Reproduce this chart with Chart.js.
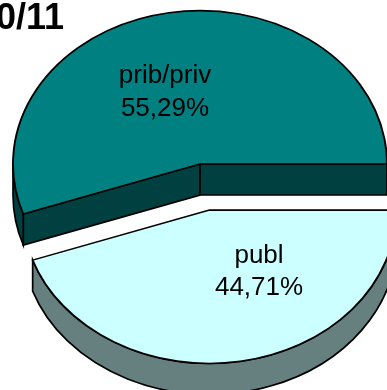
<!DOCTYPE html>
<html>
<head>
<meta charset="utf-8">
<script src="https://cdn.jsdelivr.net/npm/chart.js@4"></script>
<style>
  html, body { margin: 0; padding: 0; background: #fff; overflow: hidden; }
  canvas { display: block; }
</style>
</head>
<body>
<canvas id="chart" width="387" height="390"></canvas>
<script>
// Enrolment split for the school year
const categories = ['prib/priv', 'publ'];
const shares = [55.29, 44.71];
const titleText = '2010/11';

// Look of the disc
const topColors = ['#008080', '#CCFFFF'];
const sideColors = ['#004040', '#668080'];
const explodeBy = [0, 57];   // how far each slice is pulled out, px
const tilt = 0.82;           // vertical squash of the disc
const depth = 31;            // thickness of the disc, px
const labelOffsets = [
  { dx: -35, y1: -81.5, y2: -48.3 },
  { dx: 49.6, y1: 52.6, y2: 85.2 }
];

const fmtPct = v => v.toFixed(2).replace('.', ',') + '%';

function screenCenter(chart, arc) {
  const c = chart.$pieCenter;
  return { x: arc.x, y: c.y + (arc.y - c.y) * tilt };
}

// Turns the flat pie into a tilted, exploded disc with side walls
const pie3d = {
  id: 'pie3d',
  afterDatasetUpdate(chart, args) {
    const area = chart.chartArea;
    chart.$pieCenter = { x: (area.left + area.right) / 2, y: (area.top + area.bottom) / 2 };
    const meta = chart.getDatasetMeta(args.index);
    meta.data.forEach((arc, i) => {
      const d = explodeBy[i] || 0;
      const mid = (arc.startAngle + arc.endAngle) / 2;
      arc.x += Math.cos(mid) * d;
      arc.y += Math.sin(mid) * d;
    });
  },
  beforeDatasetsDraw(chart) {
    const ctx = chart.ctx;
    const c = chart.$pieCenter;
    const meta = chart.getDatasetMeta(0);
    ctx.save();
    ctx.lineWidth = 1.7;
    ctx.strokeStyle = '#000';
    ctx.lineJoin = 'miter';
    meta.data.forEach((arc, i) => {
      const s = screenCenter(chart, arc);
      const R = arc.outerRadius, Ry = R * tilt;
      const a1 = arc.startAngle, a2 = arc.endAngle;
      const pt = a => [s.x + R * Math.cos(a), s.y + Ry * Math.sin(a)];
      ctx.fillStyle = sideColors[i];
      const radialWall = a => {
        const p = pt(a);
        ctx.beginPath();
        ctx.moveTo(s.x, s.y);
        ctx.lineTo(p[0], p[1]);
        ctx.lineTo(p[0], p[1] + depth);
        ctx.lineTo(s.x, s.y + depth);
        ctx.closePath();
        ctx.fill();
        ctx.stroke();
      };
      if (Math.cos(a1) < -1e-6) radialWall(a1);
      if (Math.cos(a2) > 1e-6) radialWall(a2);
      // rim: only the front half of the ellipse is seen
      for (let k = -2; k <= 1; k++) {
        const lo = Math.max(a1, 2 * Math.PI * k);
        const hi = Math.min(a2, 2 * Math.PI * k + Math.PI);
        if (hi - lo > 1e-6) {
          ctx.beginPath();
          ctx.ellipse(s.x, s.y, R, Ry, 0, lo, hi, false);
          ctx.ellipse(s.x, s.y + depth, R, Ry, 0, hi, lo, true);
          ctx.closePath();
          ctx.fill();
          ctx.stroke();
        }
      }
    });
    ctx.restore();
    // top faces are drawn by the library inside this squash
    ctx.save();
    ctx.translate(c.x, c.y);
    ctx.scale(1, tilt);
    ctx.translate(-c.x, -c.y);
  },
  afterDatasetsDraw(chart) {
    const ctx = chart.ctx;
    ctx.restore();
    const meta = chart.getDatasetMeta(0);
    ctx.save();
    ctx.fillStyle = '#000';
    ctx.font = '26px "Liberation Sans", Arial, sans-serif';
    ctx.textAlign = 'center';
    ctx.textBaseline = 'alphabetic';
    meta.data.forEach((arc, i) => {
      const s = screenCenter(chart, arc);
      const o = labelOffsets[i];
      ctx.fillText(categories[i], s.x + o.dx, s.y + o.y1);
      ctx.fillText(fmtPct(shares[i]), s.x + o.dx, s.y + o.y2);
    });
    ctx.font = 'bold 36px "Liberation Sans", Arial, sans-serif';
    ctx.textAlign = 'right';
    ctx.fillText(titleText, 64, 29);
    ctx.restore();
  }
};

const total = shares.reduce((a, b) => a + b, 0);

new Chart(document.getElementById('chart'), {
  type: 'pie',
  data: {
    labels: categories,
    datasets: [{
      data: shares,
      backgroundColor: topColors,
      borderColor: '#000',
      borderWidth: 1.9,
      borderJoinStyle: 'miter',
      radius: 187,
      clip: false
    }]
  },
  options: {
    responsive: false,
    devicePixelRatio: 1,
    animation: false,
    events: [],
    // first slice closes at 3 o'clock
    rotation: 90 - 360 * shares[0] / total,
    layout: { padding: { left: 13, right: 0, top: 0, bottom: 62 } },
    plugins: {
      legend: { display: false },
      tooltip: { enabled: false },
      title: { display: false }
    }
  },
  plugins: [pie3d]
});
</script>
</body>
</html>
